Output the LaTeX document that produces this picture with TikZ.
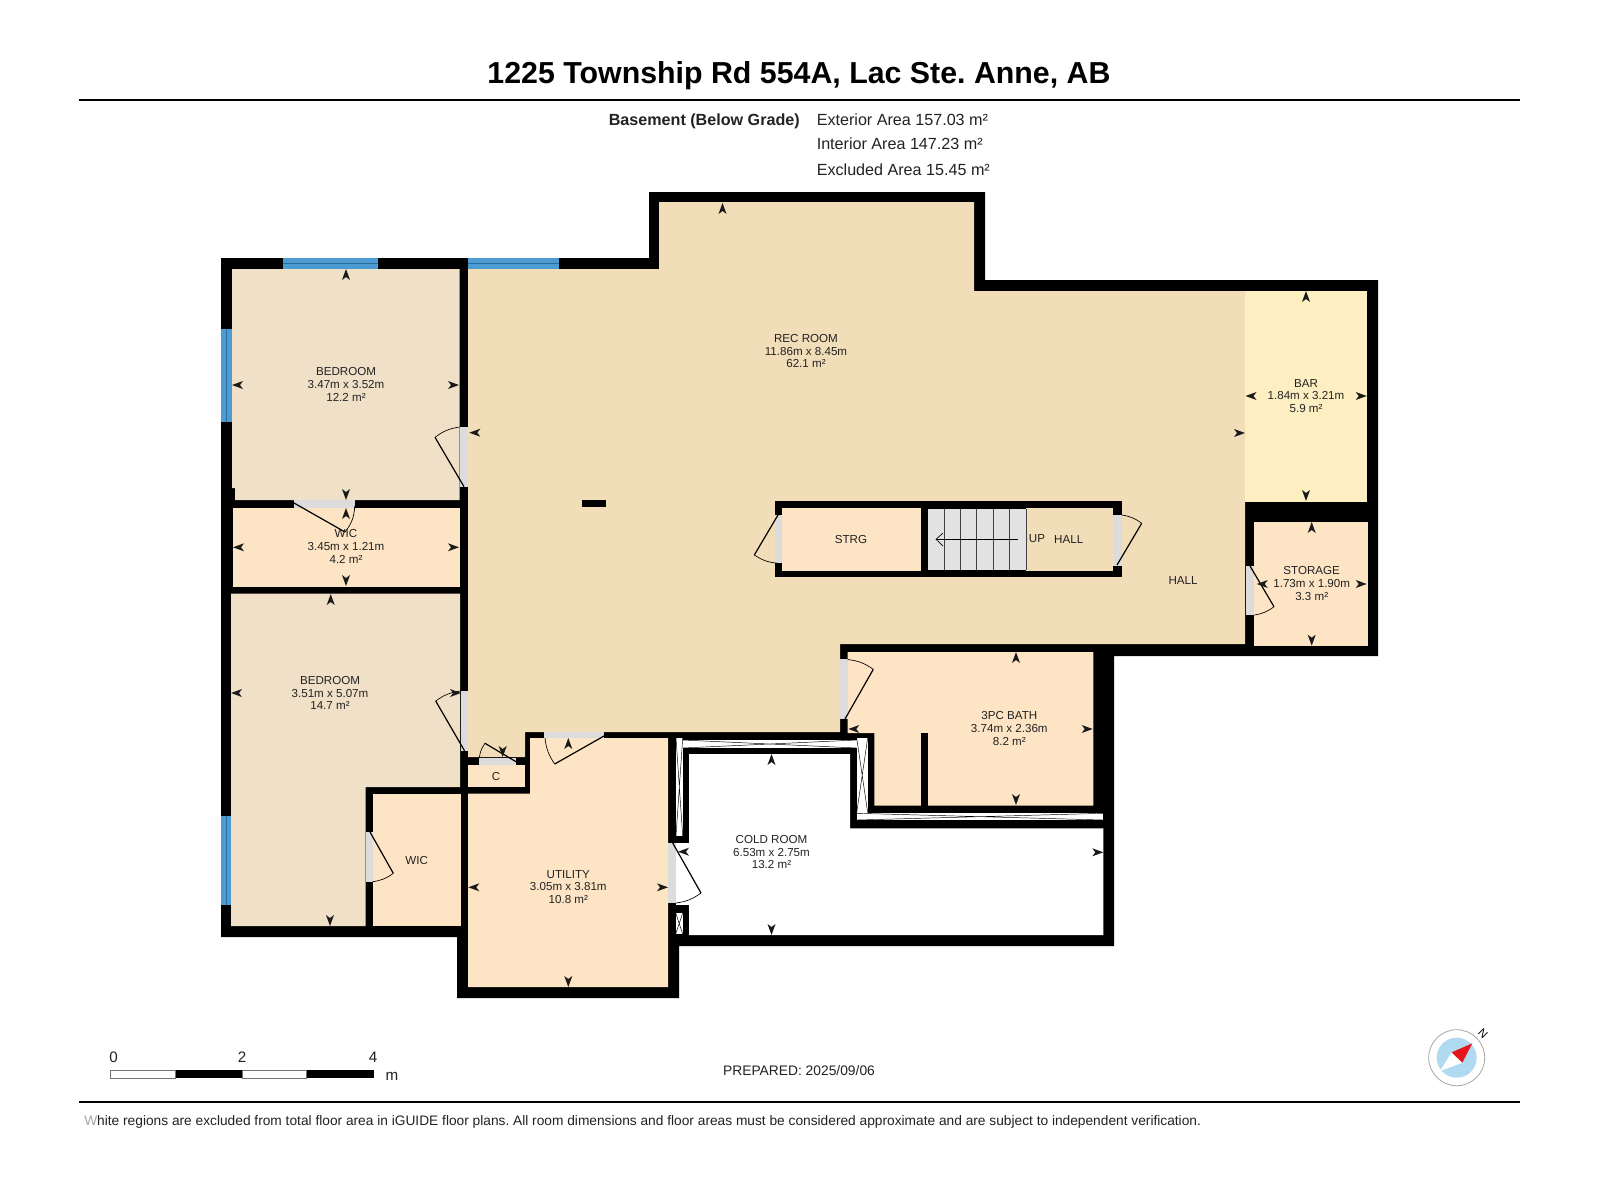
\documentclass[tikz,border=0pt]{standalone}
\usepackage{fontspec}
\setmainfont{Liberation Sans}
\frenchspacing
\definecolor{recc}{HTML}{F1DDB8}
\definecolor{bedc}{HTML}{F0E0C8}
\definecolor{roomc}{HTML}{FDE4C5}
\definecolor{barc}{HTML}{FDEFC2}
\definecolor{doorc}{HTML}{DCDCDC}
\definecolor{winc}{HTML}{4C9CD3}
\definecolor{wind}{HTML}{2A6E9E}
\definecolor{tipc}{HTML}{1A1A1A}
\definecolor{stairc}{HTML}{E2E2E2}
\definecolor{txtc}{HTML}{222222}
\definecolor{compb}{HTML}{B0DAF2}
\definecolor{compr}{HTML}{E8141C}
\tikzset{
  roomlabel/.style={align=center,font=\fontsize{8.7}{9.6}\selectfont,text=txtc,inner sep=0pt},
  leaf/.style={draw=black,line width=0.9pt,line join=miter},
  swing/.style={draw=black,line width=0.5pt},
  gapdoor/.style={fill=doorc},
  closet/.style={fill=white},
  xline/.style={draw=black,line width=0.35pt},
  headtext/.style={font=\fontsize{12.1}{14}\selectfont,text=txtc,inner sep=0pt},
  smalltext/.style={font=\fontsize{11.4}{13}\selectfont,text=txtc,inner sep=0pt},
}
\newcommand\dtip[3]{\fill[tipc,shift={(#1,#2)},rotate=#3] (0,0)--(-11,4)--(-8,0)--(-11,-4)--cycle;}
\newcommand\wind[4]{\fill[winc] (#1,#2) rectangle (#3,#4);}
\begin{document}
\begin{tikzpicture}[x=0.75pt,y=-0.75pt]
\fill[white] (0,0) rectangle (1600,1200);
\useasboundingbox (0,0) rectangle (1600,1200);
% title
\node[font=\bfseries\fontsize{22.75}{25}\selectfont,text=black,inner sep=0pt] (title) at (799,75.5) {1225 Township Rd 554A, Lac Ste. Anne, AB};
\coordinate (r1a) at (79,100); \coordinate (r1b) at (1520,100);
\draw[line width=1.9pt] (r1a) -- (r1b);
\node[headtext,font=\bfseries\fontsize{12.1}{14}\selectfont,anchor=east] (bg) at (800,121.5) {Basement (Below Grade)};
\node[headtext,anchor=west] (ea) at (816.5,119.5) {Exterior Area 157.03 m²};
\node[headtext,anchor=west] (ia) at (816.5,143.7) {Interior Area 147.23 m²};
\node[headtext,anchor=west] (xa) at (816.5,169.5) {Excluded Area 15.45 m²};
% building mass
\fill[black] (221,258) -- (649,258) -- (649,192) -- (985,192) -- (985,280) -- (1378,280) -- (1378,656) -- (1114,656) -- (1114,946) -- (679,946) -- (679,998) -- (457,998) -- (457,937) -- (221,937) -- cycle;
% rooms
\fill[bedc] (232,269) -- (459.5,269) -- (459.5,500) -- (235,500) -- (235,488) -- (232,488) -- cycle;
\fill[roomc] (233,507.5) rectangle (460,587);
\fill[bedc] (231,593.5) -- (460,593.5) -- (460,787) -- (365.7,787) -- (365.7,926) -- (231,926) -- cycle;
\fill[roomc] (372.7,794) rectangle (460.7,926);
\fill[roomc] (468,765) rectangle (525,787);
\fill[roomc] (468,793.5) -- (530,793.5) -- (530,738) -- (668,738) -- (668,987) -- (468,987) -- cycle;
\fill[recc] (468,269) -- (659,269) -- (659,202) -- (974,202) -- (974,291) -- (1245,291) -- (1245,644) -- (840,644) -- (840,732) -- (525,732) -- (525,757) -- (468,757) -- cycle;
\fill[barc] (1245,291) rectangle (1367,501.7);
\fill[roomc] (847.7,652) -- (1093.3,652) -- (1093.3,805.7) -- (874.3,805.7) -- (874.3,733) -- (847.7,733) -- cycle;
\fill[black] (920.7,733) rectangle (927.7,805.7);
\fill[roomc] (1254.3,521.7) rectangle (1368.3,645.7);
\fill[white] (689,754) -- (850,754) -- (850,828.3) -- (1103.3,828.3) -- (1103.3,935) -- (689,935) -- cycle;
\fill[white] (676,843) rectangle (690,905);
% closets
\fill[closet] (682.7,740) rectangle (856.7,748);
\draw[xline] (682.7,740) -- (856.7,748) (682.7,748) -- (856.7,740);
\fill[closet] (676,738) rectangle (682.7,836);
\draw[xline] (676,738) -- (682.7,836) (682.7,738) -- (676,836);
\fill[closet] (856.7,738) rectangle (867.7,812.7);
\draw[xline] (856.7,738) -- (867.7,812.7) (867.7,738) -- (856.7,812.7);
\fill[closet] (856.7,813.3) rectangle (1103.3,820);
\draw[xline] (856.7,813.3) -- (1103.3,820) (856.7,820) -- (1103.3,813.3);
\fill[closet] (675.7,913) rectangle (682.7,934);
\draw[xline] (675.7,913) -- (682.7,934) (682.7,913) -- (675.7,934);
% stair block
\fill[black] (775,500.7) rectangle (1121.7,577.3);
\fill[roomc] (782.3,508.3) rectangle (920.7,570.7);
\fill[stairc] (928.3,509.3) rectangle (1026,570);
\fill[recc] (1026,508.3) rectangle (1112.7,570.7);
\foreach \tx in {944,960.3,976.7,993.3,1009.7,1026}
  \draw[black!75,line width=0.7pt] (\tx,509.3) -- (\tx,570);
\coordinate (upa) at (1017.7,539.3); \coordinate (upb) at (936,539.3);
\draw[black,line width=0.5pt] (upa) -- (upb);
\draw[black,line width=0.5pt] (943,533) -- (936,539.3) -- (943,546);
% small post
\fill[black] (582,500) rectangle (606,507);
% windows
\wind{282.7}{258}{378}{269}
\wind{221}{329.3}{232}{421.7}
\wind{468}{258}{559}{269}
\wind{221}{816}{231}{905}
\draw[wind,line width=0.5pt] (282.7,263.5) -- (378,263.5) (468,263.5) -- (559,263.5) (226.5,329.3) -- (226.5,421.7) (226,816) -- (226,905);
% doors: gaps
\fill[gapdoor] (294,500) rectangle (354.7,507.5);
\fill[gapdoor] (459.5,426.7) rectangle (468.3,486.7);
\fill[gapdoor] (460.5,690.7) rectangle (468.3,750.7);
\fill[gapdoor] (479.3,757.5) rectangle (516,765);
\fill[gapdoor] (544.3,732) rectangle (604.3,738);
\fill[gapdoor] (668,843) rectangle (676,903);
\fill[gapdoor] (840,659.3) rectangle (847.7,719.3);
\fill[gapdoor] (1246,566) rectangle (1254.3,615);
\fill[gapdoor] (775,515) rectangle (782.3,563.3);
\fill[gapdoor] (1112.7,515) rectangle (1121.7,565.7);
\fill[gapdoor] (365.7,831.7) rectangle (372.7,881.7);
% doors: leaves and swings
\draw[leaf] (294,503) -- (345,532);
\draw[swing] (345,532) to[bend right=18] (354.7,506);
\draw[leaf] (464,486.7) -- (435,437.3);
\draw[swing] (435,437.3) to[bend left=14] (459.5,427);
\draw[leaf] (464.5,750.7) -- (435.7,701);
\draw[swing] (435.7,701) to[bend left=14] (460.5,691);
\draw[leaf] (516,761.7) -- (485,743.3);
\draw[swing] (485,743.3) to[bend right=14] (479.3,758);
\draw[leaf] (604,736) -- (554.7,764);
\draw[swing] (554.7,764) to[bend left=14] (545,738);
\draw[leaf] (672.7,843) -- (701,893);
\draw[swing] (701,893) to[bend left=14] (676,903);
\draw[leaf] (845,719) -- (873.3,669.3);
\draw[swing] (873.3,669.3) to[bend right=14] (847.7,659.5);
\draw[leaf] (1250,566) -- (1274,606.7);
\draw[swing] (1274,606.7) to[bend left=14] (1254.3,615);
\draw[leaf] (778,515) -- (754.3,555);
\draw[swing] (754.3,555) to[bend right=14] (778,563.3);
\draw[leaf] (1117,565) -- (1141.7,523.3);
\draw[swing] (1141.7,523.3) to[bend right=14] (1121.7,515);
\draw[leaf] (370,832) -- (393.3,873.3);
\draw[swing] (393.3,873.3) to[bend left=14] (372.7,881.7);
% dimension tips
\dtip{346}{269}{90}\dtip{232}{385}{180}\dtip{459}{385}{0}\dtip{346}{500}{270}
\dtip{469.3}{432.7}{180}\dtip{722.5}{203}{90}\dtip{1245}{433}{0}\dtip{502.7}{757}{270}
\dtip{461}{693}{0}\dtip{231}{693}{180}\dtip{330.7}{594}{90}\dtip{330}{926}{270}
\dtip{233}{547.3}{180}\dtip{459}{547.3}{0}\dtip{346}{508}{90}\dtip{346}{586}{270}
\dtip{468.3}{887.3}{180}\dtip{668}{887.3}{0}\dtip{568.3}{738}{90}\dtip{568.3}{987}{270}
\dtip{771.5}{754}{90}\dtip{771.5}{935}{270}\dtip{678}{851.7}{180}\dtip{1103.3}{852.3}{0}
\dtip{848.3}{729}{180}\dtip{1092.7}{729}{0}\dtip{1016}{652}{90}\dtip{1016}{805}{270}
\dtip{1306}{291}{90}\dtip{1306}{501}{270}\dtip{1245.5}{396}{180}\dtip{1366.7}{396}{0}
\dtip{1311.7}{522}{90}\dtip{1311.7}{645.7}{270}\dtip{1256.7}{584}{180}\dtip{1366.7}{584}{0}
% labels
\node[roomlabel] (lb1) at (346,384.5) {BEDROOM\\3.47m x 3.52m\\12.2 m²};
\node[roomlabel] (lw1) at (346,546.7) {WIC\\3.45m x 1.21m\\4.2 m²};
\node[roomlabel] (lb2) at (330,693) {BEDROOM\\3.51m x 5.07m\\14.7 m²};
\node[roomlabel] (lw2) at (416.7,860.7) {WIC};
\node[roomlabel] (lc) at (496,776.5) {C};
\node[roomlabel] (lu) at (568.3,887) {UTILITY\\3.05m x 3.81m\\10.8 m²};
\node[roomlabel] (lr) at (806,351) {REC ROOM\\11.86m x 8.45m\\62.1 m²};
\node[roomlabel] (lbar) at (1306,396) {BAR\\1.84m x 3.21m\\5.9 m²};
\node[roomlabel] (ls) at (1311.7,583.3) {STORAGE\\1.73m x 1.90m\\3.3 m²};
\node[roomlabel] (lbath) at (1009.3,728.3) {3PC BATH\\3.74m x 2.36m\\8.2 m²};
\node[roomlabel] (lcold) at (771.5,852) {COLD ROOM\\6.53m x 2.75m\\13.2 m²};
\node[roomlabel] (lstrg) at (851,539.5) {STRG};
\node[roomlabel] (lup) at (1037,539) {UP};
\node[roomlabel] (lh1) at (1068.7,540) {HALL};
\node[roomlabel] (lh2) at (1183,581) {HALL};
% scale bar
\fill[white] (110.7,1070) rectangle (175.7,1078.3);
\draw[black!55,line width=0.6pt] (110.7,1070) rectangle (175.7,1078.3);
\fill[black] (175.7,1070) rectangle (242.3,1078.3);
\draw[black!55,line width=0.6pt] (242.3,1070) rectangle (306.7,1078.3);
\fill[black] (306.7,1070) rectangle (374,1078.3);
\node[smalltext] (s0) at (113.7,1057) {0};
\node[smalltext] (s2) at (242,1057) {2};
\node[smalltext] (s4) at (373,1057) {4};
\node[smalltext] (sm) at (392,1076) {m};
\node[font=\fontsize{10.36}{12}\selectfont,text=txtc,inner sep=0pt] (prep) at (799,1070.5) {PREPARED: 2025/09/06};
% compass
\filldraw[fill=white,draw=black!35,line width=0.6pt] (1456.7,1057.7) circle (28);
\fill[compb] (1456.7,1057.7) circle (20);
\fill[white] (1451.7,1052.3) -- (1462.3,1062.7) -- (1440,1071) -- cycle;
\fill[compr] (1472.3,1043.3) -- (1451.7,1052.3) -- (1462.3,1062.7) -- cycle;
\node[font=\fontsize{8.5}{9}\selectfont,rotate=-45,inner sep=0pt] (cn) at (1483,1034) {N};
% footer
\coordinate (r2a) at (79,1102); \coordinate (r2b) at (1520,1102);
\draw[line width=1.9pt] (r2a) -- (r2b);
\node[font=\fontsize{10.3}{12}\selectfont,text=txtc,anchor=west,inner sep=0pt] (foot) at (84,1122) {{\color{black!35}W}hite regions are excluded from total floor area in iGUIDE floor plans. All room dimensions and floor areas must be considered approximate and are subject to independent verification.};
\end{tikzpicture}
\end{document}
